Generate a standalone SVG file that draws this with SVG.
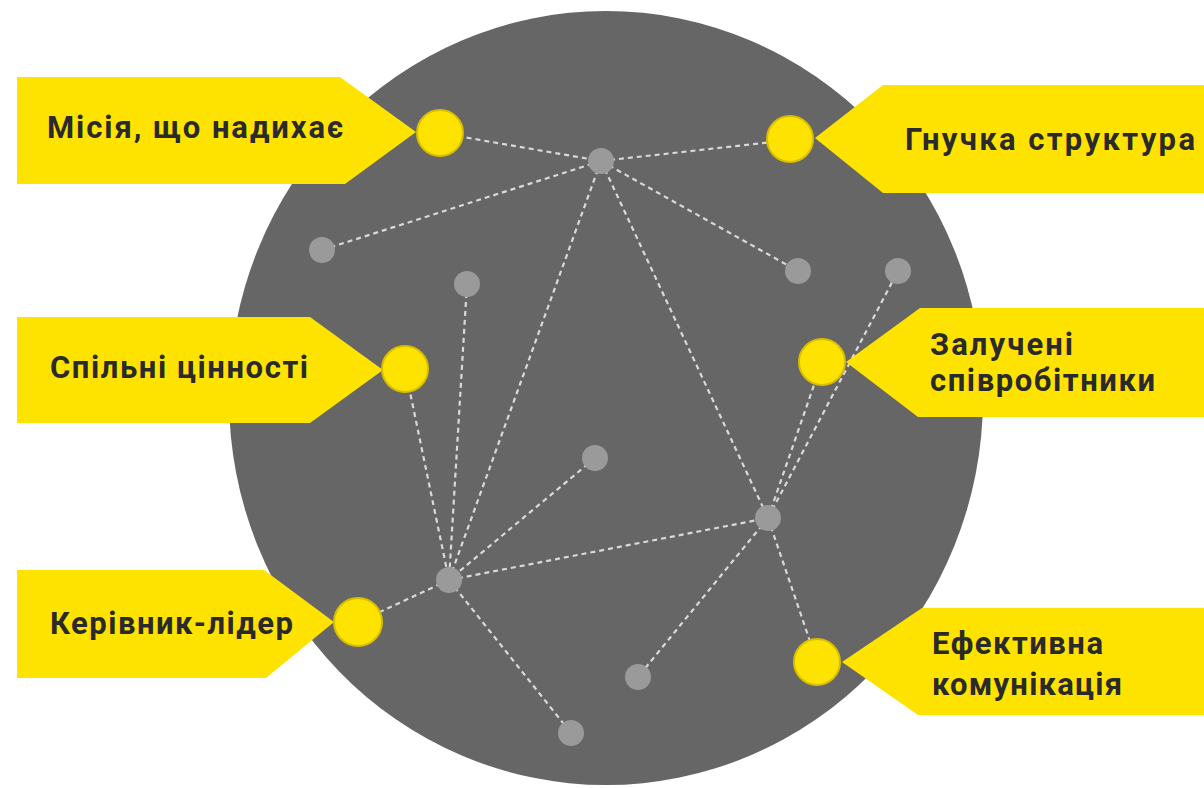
<svg xmlns="http://www.w3.org/2000/svg" width="1204" height="788" viewBox="0 0 1204 788">
<style>
.bg{fill:#ffffff}
.disc{fill:#666666}
.tag{fill:#FFE300}
.dot{fill:#FFE300;stroke:#D9BE00;stroke-width:2}
.node{fill:#9a9a9a}
.link{stroke:#d9d9d9;stroke-width:2.2;stroke-dasharray:5 4;fill:none}
.lbl{font-family:Roboto,"Liberation Sans",sans-serif;font-weight:700;font-size:31px;fill:#2a2a2a}
</style>
<rect class="bg" x="0" y="0" width="1204" height="788"/>
<ellipse class="disc" cx="606" cy="398" rx="377" ry="387"/>
<g id="connectors">
<line class="link" x1="440" y1="133" x2="601" y2="161"/>
<line class="link" x1="601" y1="161" x2="790" y2="140"/>
<line class="link" x1="601" y1="161" x2="322" y2="250"/>
<line class="link" x1="601" y1="161" x2="798" y2="271"/>
<line class="link" x1="601" y1="161" x2="449" y2="580"/>
<line class="link" x1="601" y1="161" x2="768" y2="518"/>
<line class="link" x1="467" y1="284" x2="449" y2="580"/>
<line class="link" x1="405" y1="368" x2="449" y2="580"/>
<line class="link" x1="595" y1="458" x2="449" y2="580"/>
<line class="link" x1="449" y1="580" x2="768" y2="518"/>
<line class="link" x1="449" y1="580" x2="358" y2="622"/>
<line class="link" x1="449" y1="580" x2="571" y2="733"/>
<line class="link" x1="768" y1="518" x2="638" y2="677"/>
<line class="link" x1="768" y1="518" x2="817" y2="662"/>
<line class="link" x1="768" y1="518" x2="822" y2="362"/>
<line class="link" x1="768" y1="518" x2="898" y2="271"/>
</g>
<g id="nodes-small">
<circle id="n-a" class="node" cx="601" cy="161" r="13"/>
<circle id="n-b" class="node" cx="322" cy="250" r="13"/>
<circle id="n-c" class="node" cx="467" cy="284" r="13"/>
<circle id="n-d" class="node" cx="798" cy="271" r="13"/>
<circle id="n-e" class="node" cx="898" cy="271" r="13"/>
<circle id="n-f" class="node" cx="595" cy="458" r="13"/>
<circle id="n-g" class="node" cx="768" cy="518" r="13"/>
<circle id="n-h" class="node" cx="449" cy="580" r="13"/>
<circle id="n-i" class="node" cx="638" cy="677" r="13"/>
<circle id="n-j" class="node" cx="571" cy="733" r="13"/>
</g>
<g id="tag-mission">
<polygon class="tag" points="17,77 340,77 416,132 345,184 17,184"/>
<circle class="dot" cx="440" cy="133" r="23"/>
<text class="lbl" x="47" y="138" textLength="296" lengthAdjust="spacing">Місія, що надихає</text>
</g>
<g id="tag-structure">
<polygon class="tag" points="1204,85 883,85 815,138 883,193 1204,193"/>
<circle class="dot" cx="790" cy="139" r="23"/>
<text class="lbl" x="905" y="150" textLength="290" lengthAdjust="spacing">Гнучка структура</text>
</g>
<g id="tag-values">
<polygon class="tag" points="17,317 310,317 383,370 310,423 17,423"/>
<circle class="dot" cx="405" cy="369" r="23"/>
<text class="lbl" x="50" y="378" textLength="258" lengthAdjust="spacing">Спільні цінності</text>
</g>
<g id="tag-engaged">
<polygon class="tag" points="1204,308 920,308 846,362 918,417 1204,417"/>
<circle class="dot" cx="822" cy="362" r="23"/>
<text class="lbl" x="930" y="355" textLength="143" lengthAdjust="spacing">Залучені</text>
<text class="lbl" x="930" y="391" textLength="225" lengthAdjust="spacing">співробітники</text>
</g>
<g id="tag-leader">
<polygon class="tag" points="17,570 264,570 334,622 266,678 17,678"/>
<circle class="dot" cx="358" cy="622" r="24"/>
<text class="lbl" x="50" y="634" textLength="243" lengthAdjust="spacing">Керівник-лідер</text>
</g>
<g id="tag-communication">
<polygon class="tag" points="1204,608 922,608 842,662 918,715 1204,715"/>
<circle class="dot" cx="817" cy="662" r="23"/>
<text class="lbl" x="932" y="654" textLength="171" lengthAdjust="spacing">Ефективна</text>
<text class="lbl" x="932" y="695" textLength="190" lengthAdjust="spacing">комунікація</text>
</g>
</svg>
